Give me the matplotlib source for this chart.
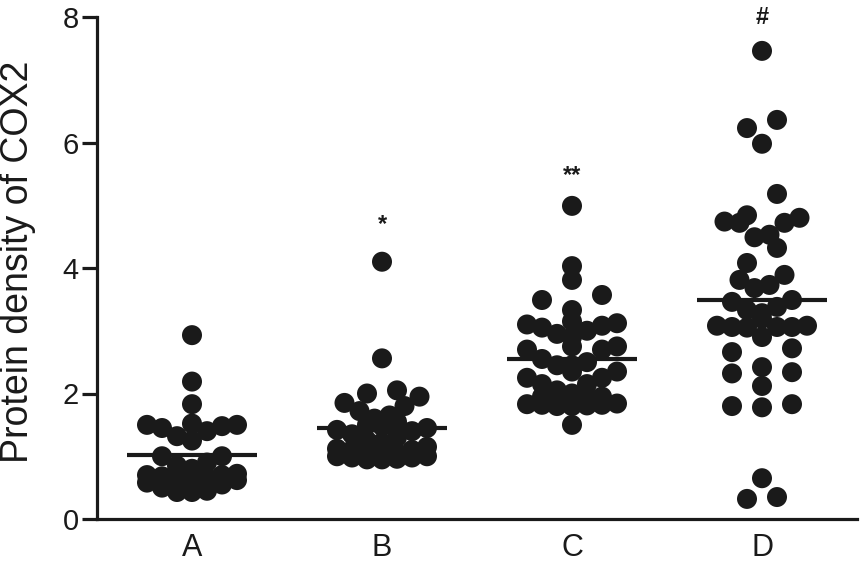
import numpy as np
import matplotlib
matplotlib.use("Agg")
import matplotlib.pyplot as plt

plt.rcParams['font.family'] = ['Liberation Sans', 'DejaVu Sans']

groups = ["A", "B", "C", "D"]
group_a = [2.93, 2.19, 1.83, 1.52, 1.50, 1.50, 1.48, 1.45, 1.40, 1.32, 1.25, 1.00,
           0.90, 0.85, 0.80, 1.00, 0.75, 0.70, 0.65, 0.62, 0.74, 0.72, 0.70, 0.68,
           0.66, 0.62, 0.58, 0.55, 0.43, 0.43, 0.45, 0.50]
group_b = [4.10, 2.56, 2.05, 2.00, 1.95, 1.85, 1.80, 1.72, 1.65, 1.60, 1.55, 1.50,
           1.48, 1.45, 1.42, 1.40, 1.35, 1.30, 1.25, 1.22, 1.18, 1.15, 1.12, 1.10,
           1.05, 1.00, 0.98, 0.96, 0.95, 1.00, 0.98, 1.05, 1.10, 1.20, 0.95, 1.00]
group_c = [4.99, 4.03, 3.81, 3.57, 3.49, 3.33, 3.15, 3.12, 3.10, 3.08, 3.05, 3.00,
           2.95, 2.90, 2.75, 2.70, 2.75, 2.70, 2.50, 2.45, 2.55, 2.35, 2.45, 2.25,
           2.35, 2.15, 2.25, 2.05, 2.15, 1.95, 1.95, 2.00, 1.95, 1.88, 1.84, 1.82,
           1.82, 1.80, 1.80, 1.50, 1.85, 1.83, 1.81]
group_d = [7.46, 6.36, 6.23, 5.98, 5.18, 4.84, 4.80, 4.74, 4.72, 4.72, 4.53, 4.49,
           4.32, 4.08, 3.89, 3.81, 3.73, 3.68, 3.49, 3.46, 3.38, 3.33, 3.28, 3.19,
           3.08, 3.06, 3.06, 3.05, 3.06, 3.08, 2.90, 2.72, 2.66, 2.42, 2.34, 2.32,
           2.12, 1.83, 1.80, 1.78, 0.65, 0.35, 0.32]
all_groups = [group_a, group_b, group_c, group_d]
annotations = ["", "*", "**", "#"]
annotation_y = [None, 4.69, 5.48, 8.0]
y_ticks = [0, 2, 4, 6, 8]

W, H, DPI = 864, 576, 100
fig = plt.figure(figsize=(W / DPI, H / DPI), dpi=DPI)
left_px, right_px, bottom_px, top_px = 97, 857, 519, 17
ax = fig.add_axes([left_px / W, (H - bottom_px) / H,
                   (right_px - left_px) / W, (bottom_px - top_px) / H])
ax.set_xlim(0.5, 4.5)
ax.set_ylim(0, 8)

px_per_x = (right_px - left_px) / 4.0


def binned_offsets(vals, bin_h=0.4, step_px=15.0, ncols=7):
    """Column-style layout: values grouped in horizontal bins, spread around centre."""
    vals = np.asarray(vals)
    offs = np.zeros(len(vals))
    bins = np.floor(vals / bin_h).astype(int)
    col_order = [0]
    for k in range(1, ncols // 2 + 1):
        col_order += [-k, k]
    for b in np.unique(bins):
        idx = np.where(bins == b)[0]
        idx = idx[np.argsort(vals[idx])]
        n = len(idx)
        if n <= 3:
            pos = (np.arange(n) - (n - 1) / 2) * 2 * step_px
            order = sorted(range(n), key=lambda j: abs(pos[j]) + 0.1 * (pos[j] > 0))
            for j, i in zip(order, idx):
                offs[i] = pos[j]
        elif n <= ncols:
            pos = (np.arange(n) - (n - 1) / 2) * step_px
            order = sorted(range(n), key=lambda j: abs(pos[j]) + 0.1 * (pos[j] > 0))
            for j, i in zip(order, idx):
                offs[i] = pos[j]
        else:
            for r, i in enumerate(idx):
                offs[i] = col_order[r % ncols] * step_px
    return offs / px_per_x


marker_d_pt = 20 * 72 / DPI
for gi, vals in enumerate(all_groups):
    vals = np.array(vals)
    offs = binned_offsets(vals)
    xc = gi + 1
    ax.scatter(xc + offs, vals, s=marker_d_pt ** 2, color='#1a1a1a',
               edgecolors='none', zorder=3, clip_on=False)
    m = vals.mean()
    ax.plot([xc - 0.34, xc + 0.34], [m, m], color='#1a1a1a', lw=3, zorder=4,
            solid_capstyle='butt')
    if annotations[gi]:
        ax.text(xc, annotation_y[gi], annotations[gi], ha='center', va='center',
                fontsize=17, fontweight='bold', color='#1a1a1a')

for s in ['top', 'right']:
    ax.spines[s].set_visible(False)
for s in ['left', 'bottom']:
    ax.spines[s].set_linewidth(2.3)
    ax.spines[s].set_color('#1a1a1a')

ax.set_yticks(y_ticks)
ax.set_yticklabels([str(t) for t in y_ticks])
ax.set_xticks([1, 2, 3, 4])
ax.set_xticklabels(groups)
ax.tick_params(axis='y', length=11, width=2.3, color='#1a1a1a', labelsize=21, pad=2,
               labelcolor='#1a1a1a')
ax.tick_params(axis='x', length=0, labelsize=22, pad=10, labelcolor='#1a1a1a')
fig.text(18 / W, 1 - 262 / H, "Protein density of COX2", rotation=90,
         ha='center', va='center', fontsize=27, color='#1a1a1a')

fig.savefig("out.png", dpi=DPI)
